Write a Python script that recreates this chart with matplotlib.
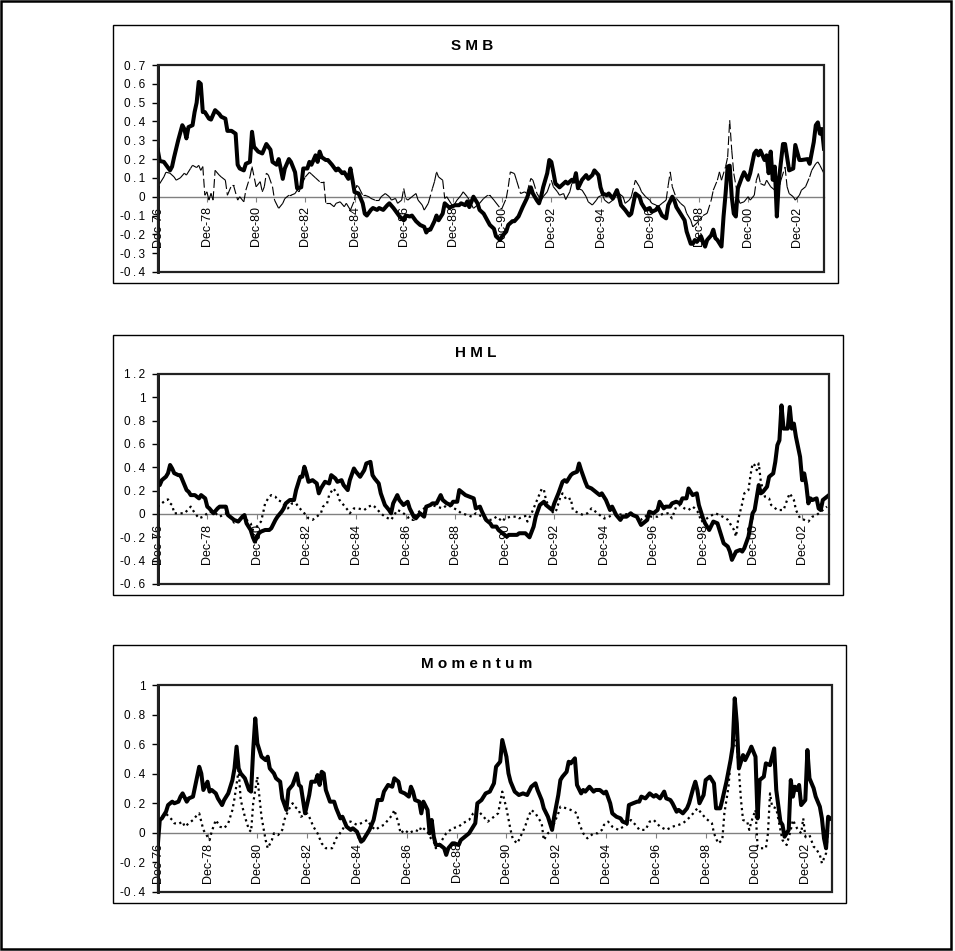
import numpy as np
import matplotlib
matplotlib.use('Agg')
import matplotlib.pyplot as plt
from matplotlib.collections import LineCollection
from matplotlib.patches import Rectangle

plt.rcParams['font.family'] = ['Liberation Sans', 'DejaVu Sans']

# months counted from Dec-76 (0) to Jan-04 (325)
n_months = 325
tick_months = [0, 24, 48, 72, 96, 120, 144, 168, 192, 216, 240, 264, 288, 312]
tick_labels = ['Dec-76', 'Dec-78', 'Dec-80', 'Dec-82', 'Dec-84', 'Dec-86', 'Dec-88',
               'Dec-90', 'Dec-92', 'Dec-94', 'Dec-96', 'Dec-98', 'Dec-00', 'Dec-02']

# (month, value) pairs
smb_main = [
    (0, 0.25), (1, 0.19), (3, 0.185), (4, 0.17), (6, 0.14), (7, 0.16), (8, 0.21), (10, 0.30),
    (12, 0.38), (13, 0.36), (14, 0.31), (15, 0.37), (17, 0.38), (18, 0.45), (19, 0.50), (20, 0.61),
    (21, 0.60), (22, 0.45), (23, 0.45), (25, 0.415), (26, 0.41), (28, 0.46), (30, 0.44), (31, 0.425),
    (33, 0.415), (34, 0.35), (36, 0.35), (38, 0.335), (39, 0.17), (40, 0.15), (42, 0.14), (43, 0.175),
    (45, 0.185), (46, 0.345), (47, 0.265), (49, 0.24), (51, 0.23), (52, 0.255), (53, 0.28), (55, 0.25),
    (56, 0.185), (58, 0.17), (59, 0.2), (60, 0.15), (61, 0.095), (62, 0.15), (64, 0.2), (65, 0.185),
    (67, 0.13), (68, 0.045), (70, 0.05), (71, 0.15), (73, 0.15), (74, 0.185), (75, 0.17), (77, 0.22),
    (78, 0.185), (79, 0.24), (80, 0.21), (82, 0.195), (83, 0.195), (85, 0.17), (87, 0.14), (88, 0.15),
    (90, 0.125), (91, 0.13), (93, 0.095), (94, 0.15), (95, 0.09), (96, 0.025), (98, 0.017), (100, -0.035),
    (101, -0.09), (102, -0.1), (104, -0.07), (105, -0.06), (107, -0.07), (108, -0.06), (110, -0.07),
    (112, -0.045), (113, -0.035), (115, -0.06), (117, -0.09), (118, -0.105), (120, -0.125), (121, -0.1),
    (123, -0.105), (124, -0.1), (126, -0.13), (128, -0.15), (130, -0.16), (131, -0.19), (132, -0.175),
    (133, -0.175), (135, -0.13), (136, -0.1), (137, -0.125), (139, -0.09), (140, -0.035), (142, -0.055),
    (143, -0.055), (145, -0.045), (147, -0.045), (148, -0.035), (150, -0.045), (151, -0.025),
    (152, -0.055), (154, 0.0), (156, -0.035), (157, -0.07), (159, -0.09), (161, -0.13), (162, -0.15),
    (164, -0.17), (165, -0.21), (167, -0.23), (168, -0.21), (170, -0.185), (171, -0.15), (173, -0.13),
    (174, -0.13), (176, -0.105), (177, -0.08), (178, -0.055), (180, -0.01), (182, 0.05), (183, 0.017),
    (185, -0.02), (186, -0.035), (187, 0.0), (188, 0.05), (190, 0.125), (191, 0.195), (192, 0.185),
    (193, 0.13), (194, 0.07), (196, 0.05), (198, 0.07), (199, 0.08), (200, 0.07), (202, 0.09),
    (203, 0.08), (204, 0.125), (205, 0.045), (207, 0.09), (209, 0.115), (210, 0.095), (212, 0.115),
    (213, 0.14), (215, 0.115), (216, 0.05), (217, 0.017), (219, 0.008), (220, 0.017), (222, -0.01),
    (224, 0.035), (225, 0.0), (226, -0.045), (228, -0.07), (230, -0.1), (231, -0.09), (233, 0.017),
    (235, 0.0), (236, -0.035), (238, -0.07), (240, -0.06), (241, -0.08), (243, -0.07), (244, -0.055),
    (246, -0.1), (248, -0.115), (249, -0.045), (251, 0.0), (252, -0.02), (253, -0.055), (255, -0.09),
    (257, -0.125), (258, -0.185), (260, -0.25), (261, -0.25), (262, -0.23), (263, -0.24), (265, -0.21),
    (266, -0.24), (267, -0.265), (268, -0.23), (270, -0.205), (271, -0.175), (272, -0.22), (273, -0.23),
    (275, -0.265), (276, -0.105), (277, 0.017), (278, 0.16), (279, 0.165), (280, 0.0), (281, -0.09),
    (282, -0.105), (283, 0.045), (285, 0.105), (286, 0.13), (288, 0.09), (289, 0.125), (291, 0.23),
    (292, 0.245), (293, 0.22), (294, 0.245), (296, 0.195), (297, 0.22), (298, 0.125), (299, 0.24),
    (300, 0.09), (301, 0.16), (302, -0.105), (303, 0.09), (305, 0.28), (306, 0.28), (308, 0.14),
    (310, 0.15), (311, 0.275), (313, 0.195), (314, 0.195), (317, 0.2), (318, 0.175), (320, 0.29),
    (321, 0.38), (322, 0.395), (323, 0.335), (324, 0.36), (325, 0.255),
]
smb_second = [
    (0, 0.01), (1, 0.07), (3, 0.105), (4, 0.13), (6, 0.125), (8, 0.105), (9, 0.088), (11, 0.1),
    (13, 0.125), (14, 0.115), (16, 0.15), (17, 0.167), (19, 0.155), (20, 0.167), (21, 0.14), (22, 0.16),
    (23, 0.008), (24, 0.026), (25, -0.018), (26, 0.018), (27, -0.018), (28, 0.14), (30, 0.115),
    (31, 0.105), (33, 0.088), (34, 0.008), (36, 0.06), (37, 0.06), (39, -0.018), (40, 0.0),
    (42, -0.027), (43, 0.035), (45, 0.105), (46, 0.16), (48, 0.053), (50, 0.08), (51, 0.026),
    (52, 0.053), (53, 0.125), (54, 0.115), (56, 0.053), (57, -0.018), (59, -0.062), (61, -0.035),
    (62, -0.01), (64, 0.008), (65, 0.008), (67, 0.017), (68, 0.035), (69, 0.026), (70, 0.06),
    (72, 0.105), (74, 0.13), (75, 0.12), (77, 0.1), (79, 0.08), (81, 0.08), (82, -0.035), (84, -0.035),
    (86, -0.053), (87, -0.035), (89, -0.027), (91, -0.053), (92, -0.035), (94, -0.071), (96, -0.018),
    (97, 0.06), (98, 0.053), (100, 0.008), (101, 0.008), (103, 0.0), (104, -0.009), (106, -0.018),
    (108, -0.018), (109, 0.0), (111, 0.017), (113, 0.0), (114, -0.018), (116, -0.009), (117, -0.035),
    (119, -0.018), (120, 0.044), (121, -0.009), (122, -0.018), (124, 0.0), (126, 0.017), (127, -0.018),
    (129, -0.044), (130, -0.071), (132, -0.035), (134, 0.044), (135, 0.08), (136, 0.132), (137, 0.105),
    (139, 0.088), (140, -0.009), (141, 0.0), (143, -0.035), (144, -0.053), (146, -0.018), (148, 0.008),
    (149, 0.026), (151, 0.0), (152, -0.018), (154, -0.062), (156, -0.044), (157, -0.035), (159, -0.009),
    (161, 0.008), (162, 0.008), (164, -0.018), (167, -0.06), (168, -0.06), (170, -0.009), (171, 0.053),
    (172, 0.132), (174, 0.123), (175, 0.088), (177, 0.017), (179, 0.026), (180, 0.017), (182, 0.097),
    (183, 0.088), (185, 0.017), (187, -0.018), (188, 0.0), (190, 0.026), (192, 0.088), (193, 0.053),
    (195, 0.026), (196, 0.008), (198, 0.017), (199, -0.015), (201, 0.026), (202, 0.07), (204, 0.088),
    (205, 0.044), (207, 0.035), (209, 0.0), (210, -0.027), (212, -0.044), (214, -0.018), (215, 0.0),
    (217, 0.008), (218, -0.018), (220, -0.035), (222, -0.018), (223, 0.0), (225, 0.017), (227, 0.0),
    (228, -0.035), (230, -0.018), (231, 0.0), (233, 0.088), (235, 0.053), (236, 0.026), (238, 0.0),
    (240, -0.018), (241, -0.035), (243, -0.044), (244, -0.053), (246, -0.035), (248, -0.018),
    (249, 0.06), (250, 0.132), (251, 0.053), (253, -0.009), (255, -0.035), (257, -0.053), (258, -0.088),
    (260, -0.124), (261, -0.16), (263, -0.14), (266, -0.1), (268, -0.088), (270, -0.018), (271, 0.035),
    (273, 0.088), (274, 0.132), (275, 0.088), (277, 0.16), (278, 0.21), (279, 0.406), (280, 0.247),
    (281, 0.123), (283, 0.0), (284, -0.035), (286, -0.027), (288, 0.0), (289, -0.018), (291, 0.008),
    (292, 0.088), (293, 0.123), (294, 0.07), (296, 0.06), (297, 0.088), (299, 0.053), (301, 0.035),
    (302, 0.0), (304, 0.088), (306, 0.158), (307, 0.053), (308, 0.017), (310, 0.0), (311, -0.018),
    (313, 0.008), (314, 0.035), (316, 0.053), (318, 0.105), (319, 0.14), (321, 0.176), (322, 0.185),
    (323, 0.167), (325, 0.123),
]
hml_main = [
    (0, 0.276), (1, 0.248), (2, 0.29), (4, 0.32), (5, 0.35), (6, 0.42), (7, 0.39), (8, 0.35), (10, 0.333),
    (11, 0.333), (12, 0.29), (14, 0.205), (15, 0.19), (16, 0.162), (18, 0.162), (20, 0.134), (21, 0.162),
    (23, 0.134), (24, 0.063), (25, 0.048), (27, 0.006), (29, 0.048), (30, 0.063), (33, 0.063),
    (34, -0.009), (36, -0.037), (37, -0.051), (39, -0.065), (41, -0.023), (42, -0.009), (43, -0.08),
    (45, -0.137), (46, -0.194), (47, -0.237), (49, -0.165), (50, -0.151), (52, -0.137), (54, -0.137),
    (55, -0.122), (57, -0.051), (58, -0.023), (60, 0.02), (61, 0.048), (62, 0.091), (64, 0.12),
    (66, 0.12), (67, 0.205), (69, 0.319), (70, 0.319), (71, 0.405), (72, 0.348), (73, 0.276), (75, 0.29),
    (77, 0.262), (78, 0.177), (79, 0.219), (81, 0.276), (83, 0.262), (84, 0.333), (86, 0.305),
    (87, 0.276), (89, 0.29), (90, 0.248), (92, 0.205), (93, 0.29), (95, 0.39), (96, 0.362), (98, 0.319),
    (100, 0.376), (101, 0.433), (103, 0.447), (104, 0.333), (105, 0.305), (107, 0.262), (108, 0.177),
    (110, 0.077), (112, 0.034), (113, 0.006), (114, 0.091), (116, 0.162), (117, 0.12), (119, 0.077),
    (121, 0.105), (122, 0.048), (124, -0.023), (125, -0.037), (127, 0.006), (129, -0.023), (130, 0.063),
    (132, 0.077), (133, 0.091), (135, 0.091), (137, 0.162), (138, 0.12), (140, 0.091), (142, 0.077),
    (143, 0.105), (145, 0.105), (146, 0.205), (148, 0.177), (149, 0.162), (151, 0.148), (153, 0.134),
    (154, 0.048), (156, 0.063), (157, 0.02), (159, -0.051), (161, -0.08), (162, -0.108), (164, -0.108),
    (165, -0.137), (167, -0.165), (169, -0.194), (170, -0.179), (172, -0.179), (174, -0.179),
    (175, -0.165), (178, -0.165), (180, -0.2), (182, -0.108), (183, -0.023), (185, 0.077), (187, 0.105),
    (188, 0.077), (191, 0.034), (192, 0.091), (194, 0.177), (196, 0.276), (197, 0.29), (198, 0.276),
    (200, 0.333), (201, 0.348), (203, 0.362), (204, 0.433), (205, 0.376), (207, 0.276), (208, 0.234),
    (210, 0.219), (212, 0.19), (214, 0.162), (215, 0.177), (217, 0.12), (219, 0.034), (220, 0.063),
    (222, -0.009), (224, -0.051), (225, -0.023), (227, -0.023), (229, 0.006), (230, -0.009),
    (232, -0.023), (234, -0.094), (235, -0.08), (237, -0.051), (238, 0.02), (240, 0.006), (242, 0.034),
    (243, 0.105), (245, 0.048), (246, 0.063), (248, 0.063), (249, 0.091), (251, 0.105), (253, 0.091),
    (254, 0.134), (256, 0.134), (257, 0.219), (259, 0.162), (261, 0.177), (262, 0.077), (264, -0.037),
    (265, -0.08), (267, -0.137), (269, -0.065), (271, -0.08), (272, -0.137), (274, -0.251),
    (276, -0.279), (277, -0.322), (278, -0.393), (280, -0.322), (282, -0.308), (283, -0.322),
    (284, -0.293), (286, -0.194), (288, 0.006), (289, 0.034), (291, 0.248), (292, 0.177), (293, 0.19),
    (295, 0.234), (296, 0.319), (298, 0.348), (299, 0.447), (300, 0.59), (301, 0.632), (302, 0.931),
    (303, 0.732), (305, 0.732), (306, 0.917), (307, 0.732), (308, 0.775), (309, 0.661), (311, 0.49),
    (312, 0.29), (313, 0.348), (314, 0.248), (315, 0.091), (316, 0.134), (317, 0.12), (319, 0.134),
    (320, 0.048), (321, 0.034), (322, 0.12), (324, 0.148), (325, 0.162),
]
hml_second = [
    (0, 0.063), (1, 0.077), (4, 0.12), (5, 0.125), (6, 0.091), (7, 0.077), (8, 0.006), (11, 0.006),
    (13, 0.006), (16, 0.063), (18, 0.006), (20, -0.037), (22, -0.023), (24, 0.006), (25, 0.02),
    (28, 0.006), (30, -0.023), (33, 0.006), (35, -0.023), (37, -0.074), (40, -0.05), (41, -0.023),
    (43, -0.05), (45, -0.08), (46, -0.137), (48, -0.108), (50, -0.065), (51, 0.006), (52, 0.091),
    (54, 0.148), (55, 0.162), (57, 0.148), (58, 0.12), (60, 0.105), (62, 0.063), (63, 0.048), (65, 0.091),
    (67, 0.091), (68, 0.063), (71, 0.006), (73, -0.037), (75, -0.05), (77, -0.023), (79, 0.006),
    (80, 0.063), (82, 0.091), (83, 0.162), (85, 0.219), (87, 0.177), (88, 0.12), (90, 0.077), (92, 0.034),
    (93, 0.006), (95, 0.048), (97, 0.048), (100, 0.034), (102, 0.063), (104, 0.077), (105, 0.063),
    (108, 0.006), (110, -0.023), (113, -0.05), (114, -0.023), (116, 0.034), (118, 0.02), (121, -0.023),
    (122, -0.05), (124, -0.05), (125, 0.006), (128, 0.034), (130, 0.063), (133, 0.077), (135, 0.063),
    (138, 0.048), (140, 0.077), (142, 0.063), (145, 0.034), (147, 0.006), (150, -0.009), (152, -0.023),
    (154, 0.006), (157, -0.023), (159, -0.05), (162, -0.05), (164, -0.023), (167, -0.065), (168, -0.037),
    (171, -0.023), (174, -0.023), (175, -0.037), (178, -0.017), (179, -0.065), (181, 0.006), (183, 0.091),
    (184, 0.134), (186, 0.219), (187, 0.205), (188, 0.12), (190, 0.034), (192, 0.006), (193, 0.034),
    (195, 0.148), (196, 0.177), (198, 0.12), (200, 0.134), (201, 0.034), (204, 0.006), (206, -0.009),
    (208, 0.006), (210, 0.048), (213, 0.006), (216, -0.037), (217, -0.037), (220, -0.009), (222, 0.006),
    (225, -0.009), (229, 0.006), (232, -0.023), (234, -0.05), (237, -0.009), (239, -0.023), (242, -0.023),
    (245, 0.006), (247, 0.006), (249, -0.037), (251, 0.063), (253, 0.077), (255, 0.048), (257, 0.034),
    (259, 0.063), (260, 0.048), (262, 0.006), (263, -0.065), (265, -0.05), (267, -0.023), (270, 0.006),
    (272, -0.009), (275, -0.037), (276, -0.05), (279, -0.137), (280, -0.194), (281, -0.05), (283, 0.091),
    (284, 0.177), (286, 0.205), (287, 0.333), (288, 0.433), (289, 0.419), (290, 0.376), (291, 0.433),
    (292, 0.276), (294, 0.148), (296, 0.134), (297, 0.077), (299, 0.048), (300, 0.034), (303, 0.034),
    (305, 0.134), (306, 0.177), (308, 0.12), (309, 0.034), (311, -0.037), (313, -0.05), (315, -0.065),
    (317, -0.023), (319, -0.009), (321, 0.02), (324, 0.063),
]
mom_main = [
    (0, -0.093), (1, 0.087), (2, 0.098), (4, 0.143), (5, 0.188), (7, 0.211), (8, 0.2), (10, 0.211),
    (11, 0.245), (12, 0.267), (14, 0.211), (15, 0.233), (17, 0.245), (18, 0.312), (20, 0.447), (21, 0.402),
    (22, 0.29), (24, 0.346), (25, 0.279), (26, 0.29), (28, 0.267), (29, 0.233), (31, 0.188), (32, 0.222),
    (34, 0.267), (36, 0.357), (37, 0.436), (38, 0.583), (39, 0.436), (40, 0.402), (42, 0.369), (44, 0.29),
    (45, 0.279), (46, 0.56), (47, 0.774), (48, 0.605), (50, 0.515), (52, 0.492), (53, 0.515), (54, 0.436),
    (56, 0.402), (57, 0.369), (59, 0.346), (60, 0.233), (62, 0.155), (63, 0.29), (65, 0.324), (67, 0.402),
    (68, 0.324), (69, 0.312), (71, 0.132), (73, 0.256), (74, 0.346), (76, 0.346), (77, 0.391), (78, 0.324),
    (79, 0.413), (80, 0.402), (81, 0.29), (83, 0.211), (85, 0.211), (86, 0.166), (88, 0.098), (89, 0.109),
    (91, 0.042), (93, 0.02), (94, 0.031), (96, 0.008), (98, -0.06), (99, -0.049), (101, -0.003),
    (102, 0.02), (104, 0.087), (105, 0.155), (106, 0.222), (108, 0.222), (109, 0.279), (111, 0.324),
    (113, 0.312), (114, 0.369), (116, 0.346), (117, 0.279), (119, 0.267), (121, 0.245), (122, 0.312),
    (123, 0.279), (124, 0.222), (126, 0.211), (127, 0.132), (128, 0.211), (130, 0.155), (131, -0.003),
    (132, 0.087), (133, -0.026), (134, -0.082), (136, -0.082), (138, -0.104), (139, -0.149),
    (140, -0.104), (142, -0.071), (143, -0.071), (145, -0.082), (146, -0.049), (148, -0.026),
    (150, -0.003), (151, 0.02), (153, 0.065), (154, 0.2), (156, 0.222), (157, 0.245), (158, 0.267),
    (160, 0.279), (162, 0.335), (163, 0.447), (165, 0.481), (166, 0.628), (168, 0.515), (169, 0.402),
    (170, 0.346), (172, 0.279), (174, 0.256), (176, 0.267), (178, 0.256), (180, 0.312), (182, 0.335),
    (183, 0.29), (185, 0.222), (186, 0.166), (188, 0.109), (190, 0.02), (191, 0.109), (193, 0.256),
    (194, 0.357), (195, 0.38), (197, 0.413), (198, 0.481), (199, 0.47), (201, 0.504), (202, 0.324),
    (204, 0.267), (205, 0.29), (206, 0.279), (208, 0.312), (210, 0.279), (211, 0.29), (213, 0.29),
    (215, 0.267), (216, 0.279), (218, 0.2), (219, 0.132), (221, 0.109), (223, 0.098), (224, 0.076),
    (226, 0.065), (227, 0.188), (229, 0.2), (231, 0.211), (232, 0.211), (233, 0.245), (235, 0.233),
    (237, 0.267), (239, 0.245), (240, 0.256), (242, 0.233), (244, 0.279), (245, 0.233), (247, 0.222),
    (248, 0.2), (250, 0.143), (251, 0.155), (253, 0.132), (255, 0.166), (256, 0.2), (258, 0.302),
    (259, 0.346), (260, 0.29), (261, 0.2), (263, 0.256), (264, 0.357), (266, 0.38), (268, 0.335),
    (269, 0.166), (271, 0.166), (272, 0.222), (274, 0.346), (276, 0.492), (277, 0.583), (278, 0.91),
    (279, 0.74), (280, 0.436), (282, 0.526), (283, 0.492), (285, 0.549), (286, 0.583), (288, 0.515),
    (289, 0.098), (290, 0.357), (292, 0.38), (293, 0.47), (295, 0.458), (296, 0.515), (297, 0.571),
    (298, 0.29), (300, 0.076), (301, 0.054), (302, -0.026), (304, 0.02), (305, 0.357), (306, 0.245),
    (307, 0.312), (308, 0.29), (309, 0.324), (310, 0.188), (312, 0.222), (313, 0.56), (314, 0.369),
    (316, 0.302), (317, 0.245), (319, 0.177), (320, 0.098), (321, -0.037), (322, -0.104), (323, 0.109),
    (324, 0.098),
]
mom_second = [
    (1, 0.076), (2, 0.109), (4, 0.132), (5, 0.114), (7, 0.087), (8, 0.065), (10, 0.06), (12, 0.076),
    (13, 0.042), (16, 0.076), (17, 0.087), (19, 0.121), (20, 0.132), (22, 0.02), (23, -0.003),
    (25, -0.049), (26, 0.008), (28, 0.087), (30, 0.042), (32, 0.031), (34, 0.065), (36, 0.155),
    (37, 0.233), (39, 0.425), (40, 0.222), (42, 0.109), (44, 0.02), (45, 0.008), (46, 0.2), (48, 0.379),
    (49, 0.245), (50, 0.109), (52, -0.049), (53, -0.104), (55, -0.049), (56, -0.003), (58, -0.015),
    (60, 0.02), (61, 0.087), (63, 0.155), (65, 0.2), (66, 0.177), (68, 0.155), (69, 0.109), (72, 0.132),
    (73, 0.109), (75, 0.042), (77, -0.003), (79, -0.071), (81, -0.104), (84, -0.104), (86, -0.037),
    (89, 0.02), (91, 0.076), (93, 0.076), (96, 0.054), (98, 0.065), (101, 0.087), (103, 0.042),
    (105, 0.02), (107, 0.042), (109, 0.054), (111, 0.087), (113, 0.121), (114, 0.155), (116, 0.065),
    (117, -0.003), (119, 0.02), (121, -0.003), (124, 0.02), (126, 0.008), (127, 0.042), (130, 0.008),
    (131, -0.026), (133, -0.06), (134, -0.104), (136, -0.071), (138, -0.026), (139, -0.003), (141, 0.02),
    (142, 0.031), (145, 0.042), (147, 0.065), (150, 0.087), (152, 0.132), (154, 0.155), (157, 0.109),
    (159, 0.076), (162, 0.109), (164, 0.132), (166, 0.279), (168, 0.166), (170, 0.02), (171, -0.037),
    (173, -0.071), (174, -0.049), (177, 0.042), (178, 0.087), (180, 0.155), (182, 0.132), (183, 0.109),
    (185, 0.065), (186, -0.049), (188, -0.003), (190, 0.02), (191, 0.065), (193, 0.132), (194, 0.177),
    (197, 0.166), (199, 0.155), (202, 0.132), (203, 0.065), (205, -0.003), (207, -0.037), (210, -0.003),
    (212, -0.003), (214, 0.02), (215, 0.054), (217, 0.076), (219, 0.042), (222, 0.02), (223, 0.031),
    (226, 0.054), (228, 0.087), (231, 0.042), (232, 0.02), (235, 0.02), (237, 0.076), (239, 0.087),
    (242, 0.042), (245, 0.02), (248, 0.042), (251, 0.054), (253, 0.065), (255, 0.087), (258, 0.132),
    (260, 0.166), (262, 0.132), (264, 0.098), (267, 0.065), (268, -0.003), (270, -0.071), (272, -0.049),
    (273, 0.132), (275, 0.312), (276, 0.492), (278, 0.628), (279, 0.583), (280, 0.425), (281, 0.222),
    (282, 0.087), (284, 0.076), (285, 0.02), (286, 0.076), (288, 0.155), (289, -0.093), (290, -0.104),
    (292, -0.104), (293, -0.104), (294, -0.003), (295, 0.267), (296, 0.177), (298, 0.166), (300, 0.02),
    (301, -0.049), (303, -0.082), (305, 0.02), (306, 0.087), (308, 0.031), (310, -0.003), (311, 0.098),
    (312, -0.026), (314, -0.015), (316, -0.093), (317, -0.104), (319, -0.149), (320, -0.206),
    (322, -0.138), (323, 0.02), (324, 0.031),
]

smb_yticks = [0.7, 0.6, 0.5, 0.4, 0.3, 0.2, 0.1, 0, -0.1, -0.2, -0.3, -0.4]
hml_yticks = [1.2, 1, 0.8, 0.6, 0.4, 0.2, 0, -0.2, -0.4, -0.6]
mom_yticks = [1, 0.8, 0.6, 0.4, 0.2, 0, -0.2, -0.4]

W, H = 955, 951
fig = plt.figure(figsize=(W / 100, H / 100), dpi=100)


def px_box(x0, y0, x1, y1):
    # pixel box (top-left origin) -> figure fraction [left, bottom, width, height]
    return [x0 / W, 1 - y1 / H, (x1 - x0) / W, (y1 - y0) / H]


def ylabel(v):
    return ('%g' % v).replace('.', '\u2009.\u2009')


def draw_panel(frame_px, plot_px, title, title_px, main, second, yticks, dotted):
    l, b, w, h = px_box(*frame_px)
    fig.patches.append(Rectangle((l, b), w, h, transform=fig.transFigure,
                                 fill=False, ec='black', lw=1.0))
    fig.text(title_px[0] / W, 1 - title_px[1] / H, title, ha='center', va='center',
             fontsize=11, fontweight='bold')

    ax = fig.add_axes(px_box(*plot_px))
    ax.set_axisbelow(True)
    ax.set_xlim(0, n_months)
    ax.set_ylim(min(yticks), max(yticks))

    m1, v1 = np.array(main).T
    ax.plot(m1, v1, color='black', lw=2.9, solid_joinstyle='round', zorder=3)

    m2, v2 = np.array(second).T
    if dotted:
        ax.plot(m2, v2, color='black', lw=1.6, linestyle=(0, (1, 1.6)),
                dash_capstyle='butt', zorder=4)
    else:
        # each segment starts its own dash, so short steps look solid
        pts = np.column_stack([m2, v2])
        segs = np.stack([pts[:-1], pts[1:]], axis=1)
        ax.add_collection(LineCollection(segs, colors='black', linewidths=0.8,
                                         linestyles=(0, (8, 3)), zorder=4))

    # category axis crosses at zero
    ax.spines['bottom'].set_position(('data', 0))
    ax.spines['bottom'].set_color('#808080')
    ax.spines['bottom'].set_linewidth(1.0)
    ax.spines['bottom'].set_zorder(1)
    ax.spines['top'].set_visible(False)
    ax.spines['right'].set_visible(False)
    ax.spines['left'].set_linewidth(2.0)
    ax.add_patch(Rectangle((0, 0), 1, 1, transform=ax.transAxes, fill=False,
                           ec='#222222', lw=1.6, clip_on=False, zorder=5))

    ax.set_xticks(tick_months)
    ax.set_xticklabels(tick_labels, rotation=90)
    ax.tick_params(axis='x', direction='out', length=3.5, width=0.8, color='#808080',
                   pad=3.5, labelsize=9)
    ax.set_yticks(yticks)
    ax.set_yticklabels([ylabel(v) for v in yticks])
    ax.tick_params(axis='y', direction='out', length=4, width=1, pad=5, labelsize=8.5)
    return ax


draw_panel((113, 25, 838, 283), (157.7, 65, 824, 272), 'S M B', (472, 46),
           smb_main, smb_second, smb_yticks, dotted=False)
draw_panel((113, 335, 843, 595), (157.7, 374, 829, 584), 'H M L', (476, 353),
           hml_main, hml_second, hml_yticks, dotted=True)
draw_panel((113, 645, 846, 903), (157.7, 685, 832.3, 892), 'M o m e n t u m', (477, 664),
           mom_main, mom_second, mom_yticks, dotted=True)

# outer border of the whole sheet
fig.patches.append(Rectangle((0.5 / W, 1 - 949 / H), 950.5 / W, 948.5 / H,
                             transform=fig.transFigure, fill=False, ec='black', lw=1.8))

fig.savefig('out.png', dpi=100)
